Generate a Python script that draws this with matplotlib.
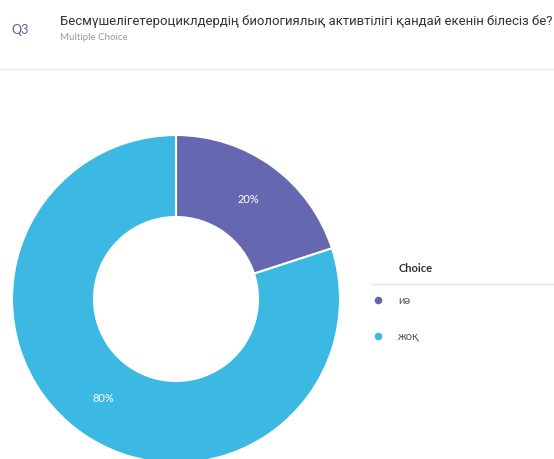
import matplotlib
matplotlib.use("Agg")
import matplotlib.pyplot as plt
from matplotlib.lines import Line2D

# Survey answers
choices = ["иә", "жоқ"]
shares = [20, 80]
colors = ["#6567b0", "#3bb9e3"]

question_id = "Q3"
question = "Бесмүшелігетероциклдердің биологиялық активтілігі қандай екенін білесіз бе?"
question_type = "Multiple Choice"
legend_title = "Choice"

W, H = 554, 459
fig = plt.figure(figsize=(W / 100, H / 100), dpi=100)
fig.patch.set_facecolor("white")
ax = fig.add_axes([0, 0, 1, 1])

fam = ["Lato", "DejaVu Sans"]
fam_title = ["Roboto", "DejaVu Sans"]

cx, cy, R = 176, H - 299, 164
wedges, _, autotexts = ax.pie(
    shares, colors=colors, startangle=90, counterclock=False,
    center=(cx, cy), radius=R,
    autopct=lambda p: f"{p:.0f}%", pctdistance=0.75,
    wedgeprops=dict(width=R * 0.5, edgecolor="white", linewidth=1.5),
    textprops=dict(color="white", fontsize=8, family=fam),
)
ax.set_xlim(0, W)
ax.set_ylim(0, H)
ax.set_aspect("auto")
ax.axis("off")

# Header
ax.text(11, H - 30, question_id, fontsize=9, color="#5b5e98", family=fam,
        va="center", ha="left")
title = ax.text(60, H - 22, question, fontsize=10, color="#333333",
                family=fam_title, va="center", ha="left")
# fit the question line into the space right of the id column
renderer = fig.canvas.get_renderer()
tw = title.get_window_extent(renderer).width
title.set_fontsize(10 * 491 / tw)
ax.text(60, H - 38, question_type, fontsize=7, color="#9a9a9a", family=fam,
        va="center", ha="left")
ax.add_line(Line2D([0, W], [H - 69, H - 69], color="#e6e6e6", lw=1))

# Legend
ax.text(399, H - 268, legend_title, fontsize=8, color="#333333", family=fam,
        fontweight="bold", va="center", ha="left")
ax.add_line(Line2D([372, W], [H - 284, H - 284], color="#e3e3e3", lw=1))
for i, (lab, col) in enumerate(zip(choices, colors)):
    y = H - (300 + 36 * i)
    ax.plot([378], [y], marker="o", ms=5.5, color=col, mec="none")
    ax.text(398, y, lab, fontsize=8, color="#555555", family=fam,
            va="center", ha="left")

fig.savefig("out.png", dpi=100, facecolor="white")
